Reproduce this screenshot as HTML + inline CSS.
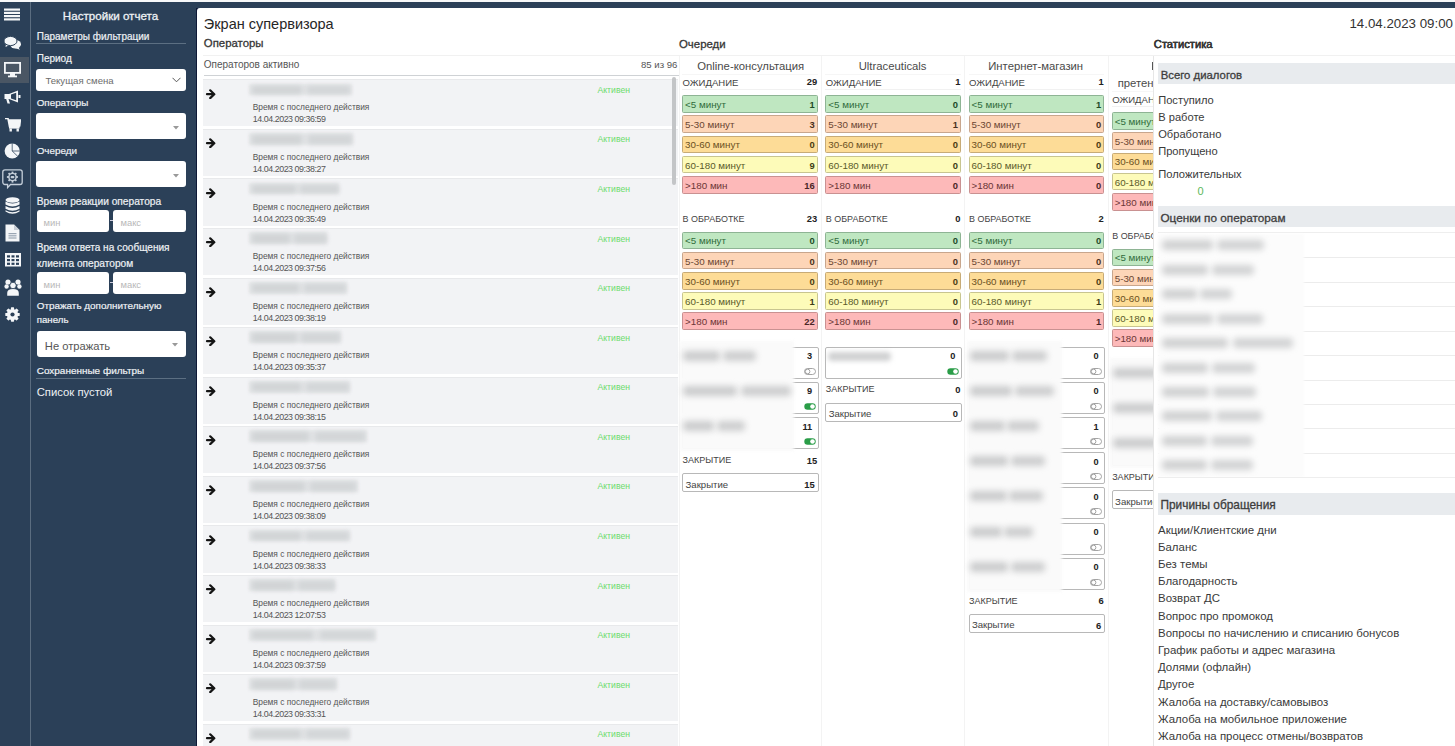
<!DOCTYPE html>
<html><head><meta charset="utf-8"><title>Экран супервизора</title>
<style>
html,body{margin:0;padding:0;}
body{width:1455px;height:746px;overflow:hidden;position:relative;background:#2b4058;font-family:"Liberation Sans",sans-serif;}
.t{position:absolute;white-space:nowrap;line-height:1;}
</style></head><body>
<div style="position:absolute;left:0.00px;top:0.00px;width:1455.00px;height:2.00px;background:#f7f8f9"></div>
<div style="position:absolute;left:30.00px;top:2.00px;width:1.40px;height:744.00px;background:#5b6d80"></div>
<div style="position:absolute;left:0.00px;top:56.70px;width:29.20px;height:26.80px;background:#4a5664"></div>
<svg style="position:absolute;left:4px;top:8px" width="16" height="14" viewBox="0 0 16 14"><g fill="#f4f6f8"><rect x="0" y="0.5" width="16" height="2.2"/><rect x="0" y="3.8" width="16" height="2.2"/><rect x="0" y="7" width="16" height="2.2"/><rect x="0" y="10.3" width="16" height="2.2"/></g></svg>
<svg style="position:absolute;left:4px;top:36px" width="17" height="14" viewBox="0 0 17 14"><g fill="#f4f6f8"><ellipse cx="6.5" cy="5" rx="6.5" ry="4.6"/><path d="M2 8 L1.5 11 L5.5 9z"/><ellipse cx="11.5" cy="8.2" rx="5.5" ry="4.2" /><path d="M14 11 L16 13.8 L11 12z"/></g><ellipse cx="6.5" cy="5" rx="6.5" ry="4.6" fill="#f4f6f8" stroke="#2b4058" stroke-width="1"/></svg>
<svg style="position:absolute;left:4px;top:62px" width="17" height="16" viewBox="0 0 17 16"><rect x="0.9" y="0.9" width="15.2" height="10" fill="none" stroke="#f4f6f8" stroke-width="1.8"/><rect x="6" y="11" width="5" height="3" fill="#f4f6f8"/><rect x="4" y="13.5" width="9" height="1.8" fill="#f4f6f8"/></svg>
<svg style="position:absolute;left:4px;top:90px" width="17" height="14" viewBox="0 0 17 14"><path d="M0.5 4 H5 L14 0.5 V12.5 L5 9 H4.5 L6 13.5 H3.5 L2.2 9 H0.5z" fill="#f4f6f8"/><path d="M7 4.5 L12.2 2.8 V10.2 L7 8.5z" fill="#2b4058"/><rect x="14.5" y="5" width="2" height="3" fill="#f4f6f8"/></svg>
<svg style="position:absolute;left:5px;top:118px" width="16" height="14" viewBox="0 0 16 14"><path d="M0 0.5 H3 L4.5 8.5 H14 L15.5 2 H3.8" fill="none" stroke="#f4f6f8" stroke-width="1.6"/><rect x="4" y="2" width="11.5" height="6.5" fill="#f4f6f8"/><rect x="4" y="9" width="10.5" height="1.6" fill="#f4f6f8"/><rect x="4.5" y="10.5" width="2.4" height="3" fill="#f4f6f8"/><rect x="11.5" y="10.5" width="2.4" height="3" fill="#f4f6f8"/></svg>
<svg style="position:absolute;left:4px;top:143px" width="17" height="16" viewBox="0 0 17 16"><circle cx="8.2" cy="8" r="7.6" fill="#f4f6f8"/><path d="M8.2 0.2 V8 H16 M8.2 8 L13.8 13.4" fill="none" stroke="#2b4058" stroke-width="0.75"/></svg>
<svg style="position:absolute;left:2px;top:169px" width="21" height="20" viewBox="0 0 21 20"><path d="M3 0.8 H18 A2.2 2.2 0 0 1 20.2 3 V13.3 A2.2 2.2 0 0 1 18 15.5 H8.5 L5.6 18.6 V15.5 H3 A2.2 2.2 0 0 1 0.8 13.3 V3 A2.2 2.2 0 0 1 3 0.8z" fill="none" stroke="#c5cfda" stroke-width="1.3"/><rect x="9.6" y="2.6" width="1.8" height="11" transform="rotate(0 10.5 8)" fill="#c5cfda"/><rect x="9.6" y="2.6" width="1.8" height="11" transform="rotate(45 10.5 8)" fill="#c5cfda"/><rect x="9.6" y="2.6" width="1.8" height="11" transform="rotate(90 10.5 8)" fill="#c5cfda"/><rect x="9.6" y="2.6" width="1.8" height="11" transform="rotate(135 10.5 8)" fill="#c5cfda"/><circle cx="10.5" cy="8" r="4.3" fill="#c5cfda"/><circle cx="10.5" cy="8" r="2.9" fill="#2b4058"/><rect x="8.6" y="7" width="3.8" height="2.2" rx="1" fill="#c5cfda"/></svg>
<svg style="position:absolute;left:5px;top:197px" width="15" height="18" viewBox="0 0 15 18"><g fill="#f4f6f8"><ellipse cx="7.5" cy="3" rx="7" ry="2.8"/><path d="M0.5 4.5 Q7.5 8.5 14.5 4.5 V7.5 Q7.5 11.5 0.5 7.5z"/><path d="M0.5 9 Q7.5 13 14.5 9 V11.8 Q7.5 15.8 0.5 11.8z"/><path d="M0.5 13.2 Q7.5 17.2 14.5 13.2 V14.6 Q7.5 19 0.5 14.6z"/></g></svg>
<svg style="position:absolute;left:5px;top:224px" width="15" height="18" viewBox="0 0 15 18"><path d="M0.5 0.5 H9 L14.5 6 V17.5 H0.5z" fill="#f4f6f8"/><path d="M9 0.5 V6 H14.5" fill="#c8ced6"/><g fill="#9aa6b3"><rect x="3.5" y="9" width="8" height="1.2"/><rect x="3.5" y="11.2" width="8" height="1.2"/><rect x="3.5" y="13.4" width="8" height="1.2"/></g></svg>
<svg style="position:absolute;left:5px;top:253px" width="16" height="14" viewBox="0 0 16 14"><rect x="0" y="0" width="16" height="13.5" fill="#f4f6f8"/><g fill="#2b4058"><rect x="2" y="2.3" width="3" height="2.2"/><rect x="6.5" y="2.3" width="3" height="2.2"/><rect x="11" y="2.3" width="3" height="2.2"/><rect x="2" y="6" width="3" height="2.2"/><rect x="6.5" y="6" width="3" height="2.2"/><rect x="11" y="6" width="3" height="2.2"/><rect x="2" y="9.7" width="3" height="2.2"/><rect x="6.5" y="9.7" width="3" height="2.2"/><rect x="11" y="9.7" width="3" height="2.2"/></g></svg>
<svg style="position:absolute;left:4px;top:279px" width="18" height="17" viewBox="0 0 18 17"><g fill="#f4f6f8"><circle cx="4" cy="3" r="2.6"/><circle cx="14" cy="3" r="2.6"/><circle cx="2.6" cy="7.5" r="2.2"/><circle cx="15.4" cy="7.5" r="2.2"/><path d="M3.2 16.8 V14 Q3.2 10 9 10 Q14.8 10 14.8 14 V16.8z"/></g><circle cx="9" cy="6.5" r="3.2" fill="#f4f6f8" stroke="#2b4058" stroke-width="0.8"/></svg>
<svg style="position:absolute;left:5px;top:307px" width="15" height="15" viewBox="0 0 15 15"><g fill="#f4f6f8"><rect x="5.9" y="0.3" width="3.2" height="14.4" rx="0.6" transform="rotate(0 7.5 7.5)"/><rect x="5.9" y="0.3" width="3.2" height="14.4" rx="0.6" transform="rotate(45 7.5 7.5)"/><rect x="5.9" y="0.3" width="3.2" height="14.4" rx="0.6" transform="rotate(90 7.5 7.5)"/><rect x="5.9" y="0.3" width="3.2" height="14.4" rx="0.6" transform="rotate(135 7.5 7.5)"/><circle cx="7.5" cy="7.5" r="5.6"/></g><circle cx="7.5" cy="7.5" r="2.1" fill="#2b4058"/></svg>
<div class="t" style="left:-89.50px;width:400px;text-align:center;top:9.98px;font-size:11.6px;color:#eef1f4;font-weight:400;-webkit-text-stroke:0.3px currentColor;">Настройки отчета</div>
<div class="t" style="left:36.70px;top:31.93px;font-size:10.0px;color:#eef1f4;font-weight:400;-webkit-text-stroke:0.2px currentColor;">Параметры фильтрации</div>
<div style="position:absolute;left:36.00px;top:42.60px;width:150.00px;height:1.20px;background:#5c6f82"></div>
<div class="t" style="left:36.70px;top:53.94px;font-size:10.0px;color:#eef1f4;font-weight:400;-webkit-text-stroke:0.2px currentColor;">Период</div>
<div style="position:absolute;left:36.00px;top:69.00px;width:150.00px;height:22.00px;background:#fff;border-radius:3px"></div>
<div class="t" style="left:45.40px;top:76.47px;font-size:9.6px;color:#6c6c6c;font-weight:400;">Текущая смена</div>
<svg style="position:absolute;left:172px;top:77px" width="9" height="6" viewBox="0 0 9 6"><path d="M0.5 0.8 L4.5 4.8 L8.5 0.8" fill="none" stroke="#555" stroke-width="1"/></svg>
<div class="t" style="left:36.70px;top:97.86px;font-size:9.85px;color:#eef1f4;font-weight:400;-webkit-text-stroke:0.2px currentColor;">Операторы</div>
<div style="position:absolute;left:36.00px;top:113.00px;width:150.00px;height:26.00px;background:#fff;border-radius:3px"></div>
<svg style="position:absolute;left:173px;top:126px" width="6" height="4" viewBox="0 0 6 4"><path d="M0 0 H6 L3 3.5z" fill="#999"/></svg>
<div class="t" style="left:36.70px;top:145.86px;font-size:9.85px;color:#eef1f4;font-weight:400;-webkit-text-stroke:0.2px currentColor;">Очереди</div>
<div style="position:absolute;left:36.00px;top:161.00px;width:150.00px;height:26.20px;background:#fff;border-radius:3px"></div>
<svg style="position:absolute;left:173px;top:174px" width="6" height="4" viewBox="0 0 6 4"><path d="M0 0 H6 L3 3.5z" fill="#999"/></svg>
<div class="t" style="left:36.70px;top:197.37px;font-size:10.2px;color:#eef1f4;font-weight:400;-webkit-text-stroke:0.2px currentColor;">Время реакции оператора</div>
<div style="position:absolute;left:36.50px;top:209.80px;width:72.00px;height:22.20px;background:#fff;border-radius:3px"></div>
<div class="t" style="left:43.50px;top:217.84px;font-size:9.4px;color:#b8b8b8;font-weight:400;">мин</div>
<div style="position:absolute;left:109.50px;top:219.50px;width:3.00px;height:1.20px;background:#ccd"></div>
<div style="position:absolute;left:113.00px;top:209.80px;width:73.00px;height:22.20px;background:#fff;border-radius:3px"></div>
<div class="t" style="left:120.50px;top:217.84px;font-size:9.4px;color:#b8b8b8;font-weight:400;">макс</div>
<div class="t" style="left:36.70px;top:243.08px;font-size:10.07px;color:#eef1f4;font-weight:400;-webkit-text-stroke:0.2px currentColor;">Время ответа на сообщения</div>
<div class="t" style="left:36.70px;top:259.41px;font-size:10.15px;color:#eef1f4;font-weight:400;-webkit-text-stroke:0.2px currentColor;">клиента оператором</div>
<div style="position:absolute;left:36.50px;top:272.00px;width:72.00px;height:21.50px;background:#fff;border-radius:3px"></div>
<div class="t" style="left:43.50px;top:279.84px;font-size:9.4px;color:#b8b8b8;font-weight:400;">мин</div>
<div style="position:absolute;left:109.50px;top:281.50px;width:3.00px;height:1.20px;background:#ccd"></div>
<div style="position:absolute;left:113.00px;top:272.00px;width:73.00px;height:21.50px;background:#fff;border-radius:3px"></div>
<div class="t" style="left:120.50px;top:279.84px;font-size:9.4px;color:#b8b8b8;font-weight:400;">макс</div>
<div class="t" style="left:36.70px;top:300.80px;font-size:9.92px;color:#eef1f4;font-weight:400;-webkit-text-stroke:0.2px currentColor;">Отражать дополнительную</div>
<div class="t" style="left:36.70px;top:315.29px;font-size:9.7px;color:#eef1f4;font-weight:400;-webkit-text-stroke:0.2px currentColor;">панель</div>
<div style="position:absolute;left:36.50px;top:331.30px;width:149.50px;height:25.30px;background:#fff;border-radius:3px"></div>
<div class="t" style="left:44.80px;top:340.62px;font-size:11.2px;color:#555;font-weight:400;">Не отражать</div>
<svg style="position:absolute;left:172px;top:343px" width="6" height="4" viewBox="0 0 6 4"><path d="M0 0 H6 L3 3.5z" fill="#999"/></svg>
<div class="t" style="left:36.70px;top:366.25px;font-size:9.98px;color:#eef1f4;font-weight:400;-webkit-text-stroke:0.2px currentColor;">Сохраненные фильтры</div>
<div style="position:absolute;left:36.00px;top:377.80px;width:150.00px;height:1.20px;background:#5c6f82"></div>
<div class="t" style="left:36.70px;top:386.63px;font-size:11.3px;color:#eef1f4;font-weight:400;">Список пустой</div>
<div style="position:absolute;left:196.30px;top:7.80px;width:1.30px;height:740.00px;background:#0d1836"></div>
<div style="position:absolute;left:197.30px;top:7.80px;width:1300.00px;height:740.00px;background:#fff;border-top-left-radius:3px"></div>
<div class="t" style="left:203.80px;top:17.03px;font-size:14.5px;color:#262626;font-weight:400;">Экран супервизора</div>
<div class="t" style="left:1153.00px;width:300px;text-align:right;top:17.44px;font-size:13.3px;color:#333;font-weight:400;">14.04.2023 09:00</div>
<div class="t" style="left:203.80px;top:38.45px;font-size:11.4px;color:#363636;font-weight:400;-webkit-text-stroke:0.3px currentColor;">Операторы</div>
<div class="t" style="left:679.00px;top:38.85px;font-size:11.4px;color:#363636;font-weight:400;-webkit-text-stroke:0.3px currentColor;">Очереди</div>
<div class="t" style="left:1153.80px;top:38.62px;font-size:11.2px;color:#363636;font-weight:400;-webkit-text-stroke:0.3px currentColor;">Статистика</div>
<div style="position:absolute;left:203.00px;top:55.30px;width:1252.00px;height:1.00px;background:#f1f1f1"></div>
<div class="t" style="left:203.80px;top:60.23px;font-size:10.0px;color:#555;font-weight:400;">Операторов активно</div>
<div class="t" style="left:377.40px;width:300px;text-align:right;top:60.27px;font-size:9.6px;color:#555;font-weight:400;">85 из 96</div>
<div style="position:absolute;left:203.50px;top:74.60px;width:475.00px;height:1.60px;background:#cfd2d5"></div>
<div style="position:absolute;left:203.20px;top:79.30px;width:475.20px;height:47.20px;background:#f2f3f5;border-top:1px solid #e8e9eb;box-sizing:border-box"></div>
<svg style="position:absolute;left:204.8px;top:88.50px" width="12" height="10" viewBox="0 0 12 10"><path d="M2 5.2 H9.2 M5.2 1.3 L9.3 5.2 L5.2 9.1" fill="none" stroke="#151515" stroke-width="2.2" stroke-linecap="round" stroke-linejoin="round"/></svg>
<div style="position:absolute;left:249.00px;top:83.50px;width:102.50px;height:11.80px;background:#e2e4e6;filter:blur(1.8px)"></div>
<div style="position:absolute;left:252.00px;top:85.50px;width:49.68px;height:8.50px;background:#d0d3d5;filter:blur(2.8px);border-radius:3px"></div>
<div style="position:absolute;left:306.86px;top:85.50px;width:43.47px;height:8.50px;background:#d2d5d7;filter:blur(2.8px);border-radius:3px"></div>
<div class="t" style="left:252.70px;top:103.39px;font-size:8.4px;color:#555;font-weight:400;">Время с последнего действия</div>
<div class="t" style="left:252.70px;top:115.47px;font-size:8.9px;color:#555;font-weight:400;letter-spacing:-0.45px">14.04.2023 09:36:59</div>
<div class="t" style="left:597.50px;top:85.89px;font-size:8.64px;color:#6cdc6c;font-weight:400;">Активен</div>
<div style="position:absolute;left:203.20px;top:128.87px;width:475.20px;height:47.20px;background:#f2f3f5;border-top:1px solid #e8e9eb;box-sizing:border-box"></div>
<svg style="position:absolute;left:204.8px;top:138.07px" width="12" height="10" viewBox="0 0 12 10"><path d="M2 5.2 H9.2 M5.2 1.3 L9.3 5.2 L5.2 9.1" fill="none" stroke="#151515" stroke-width="2.2" stroke-linecap="round" stroke-linejoin="round"/></svg>
<div style="position:absolute;left:249.00px;top:133.07px;width:104.00px;height:11.80px;background:#e2e4e6;filter:blur(1.8px)"></div>
<div style="position:absolute;left:252.00px;top:135.07px;width:50.40px;height:8.50px;background:#d0d3d5;filter:blur(2.8px);border-radius:3px"></div>
<div style="position:absolute;left:307.65px;top:135.07px;width:44.10px;height:8.50px;background:#d2d5d7;filter:blur(2.8px);border-radius:3px"></div>
<div class="t" style="left:252.70px;top:152.96px;font-size:8.4px;color:#555;font-weight:400;">Время с последнего действия</div>
<div class="t" style="left:252.70px;top:165.04px;font-size:8.9px;color:#555;font-weight:400;letter-spacing:-0.45px">14.04.2023 09:38:27</div>
<div class="t" style="left:597.50px;top:135.46px;font-size:8.64px;color:#6cdc6c;font-weight:400;">Активен</div>
<div style="position:absolute;left:203.20px;top:178.44px;width:475.20px;height:47.20px;background:#f2f3f5;border-top:1px solid #e8e9eb;box-sizing:border-box"></div>
<svg style="position:absolute;left:204.8px;top:187.64px" width="12" height="10" viewBox="0 0 12 10"><path d="M2 5.2 H9.2 M5.2 1.3 L9.3 5.2 L5.2 9.1" fill="none" stroke="#151515" stroke-width="2.2" stroke-linecap="round" stroke-linejoin="round"/></svg>
<div style="position:absolute;left:249.00px;top:182.64px;width:90.40px;height:11.80px;background:#e2e4e6;filter:blur(1.8px)"></div>
<div style="position:absolute;left:252.00px;top:184.64px;width:43.87px;height:8.50px;background:#d0d3d5;filter:blur(2.8px);border-radius:3px"></div>
<div style="position:absolute;left:300.44px;top:184.64px;width:38.39px;height:8.50px;background:#d2d5d7;filter:blur(2.8px);border-radius:3px"></div>
<div class="t" style="left:252.70px;top:202.53px;font-size:8.4px;color:#555;font-weight:400;">Время с последнего действия</div>
<div class="t" style="left:252.70px;top:214.61px;font-size:8.9px;color:#555;font-weight:400;letter-spacing:-0.45px">14.04.2023 09:35:49</div>
<div class="t" style="left:597.50px;top:185.03px;font-size:8.64px;color:#6cdc6c;font-weight:400;">Активен</div>
<div style="position:absolute;left:203.20px;top:228.01px;width:475.20px;height:47.20px;background:#f2f3f5;border-top:1px solid #e8e9eb;box-sizing:border-box"></div>
<svg style="position:absolute;left:204.8px;top:237.21px" width="12" height="10" viewBox="0 0 12 10"><path d="M2 5.2 H9.2 M5.2 1.3 L9.3 5.2 L5.2 9.1" fill="none" stroke="#151515" stroke-width="2.2" stroke-linecap="round" stroke-linejoin="round"/></svg>
<div style="position:absolute;left:249.00px;top:232.21px;width:78.30px;height:11.80px;background:#e2e4e6;filter:blur(1.8px)"></div>
<div style="position:absolute;left:252.00px;top:234.21px;width:38.06px;height:8.50px;background:#d0d3d5;filter:blur(2.8px);border-radius:3px"></div>
<div style="position:absolute;left:294.03px;top:234.21px;width:33.31px;height:8.50px;background:#d2d5d7;filter:blur(2.8px);border-radius:3px"></div>
<div class="t" style="left:252.70px;top:252.10px;font-size:8.4px;color:#555;font-weight:400;">Время с последнего действия</div>
<div class="t" style="left:252.70px;top:264.18px;font-size:8.9px;color:#555;font-weight:400;letter-spacing:-0.45px">14.04.2023 09:37:56</div>
<div class="t" style="left:597.50px;top:234.60px;font-size:8.64px;color:#6cdc6c;font-weight:400;">Активен</div>
<div style="position:absolute;left:203.20px;top:277.58px;width:475.20px;height:47.20px;background:#f2f3f5;border-top:1px solid #e8e9eb;box-sizing:border-box"></div>
<svg style="position:absolute;left:204.8px;top:286.78px" width="12" height="10" viewBox="0 0 12 10"><path d="M2 5.2 H9.2 M5.2 1.3 L9.3 5.2 L5.2 9.1" fill="none" stroke="#151515" stroke-width="2.2" stroke-linecap="round" stroke-linejoin="round"/></svg>
<div style="position:absolute;left:249.00px;top:281.78px;width:97.70px;height:11.80px;background:#e2e4e6;filter:blur(1.8px)"></div>
<div style="position:absolute;left:252.00px;top:283.78px;width:47.38px;height:8.50px;background:#d0d3d5;filter:blur(2.8px);border-radius:3px"></div>
<div style="position:absolute;left:304.31px;top:283.78px;width:41.45px;height:8.50px;background:#d2d5d7;filter:blur(2.8px);border-radius:3px"></div>
<div class="t" style="left:252.70px;top:301.67px;font-size:8.4px;color:#555;font-weight:400;">Время с последнего действия</div>
<div class="t" style="left:252.70px;top:313.75px;font-size:8.9px;color:#555;font-weight:400;letter-spacing:-0.45px">14.04.2023 09:38:19</div>
<div class="t" style="left:597.50px;top:284.17px;font-size:8.64px;color:#6cdc6c;font-weight:400;">Активен</div>
<div style="position:absolute;left:203.20px;top:327.15px;width:475.20px;height:47.20px;background:#f2f3f5;border-top:1px solid #e8e9eb;box-sizing:border-box"></div>
<svg style="position:absolute;left:204.8px;top:336.35px" width="12" height="10" viewBox="0 0 12 10"><path d="M2 5.2 H9.2 M5.2 1.3 L9.3 5.2 L5.2 9.1" fill="none" stroke="#151515" stroke-width="2.2" stroke-linecap="round" stroke-linejoin="round"/></svg>
<div style="position:absolute;left:249.00px;top:331.35px;width:91.90px;height:11.80px;background:#e2e4e6;filter:blur(1.8px)"></div>
<div style="position:absolute;left:252.00px;top:333.35px;width:44.59px;height:8.50px;background:#d0d3d5;filter:blur(2.8px);border-radius:3px"></div>
<div style="position:absolute;left:301.24px;top:333.35px;width:39.02px;height:8.50px;background:#d2d5d7;filter:blur(2.8px);border-radius:3px"></div>
<div class="t" style="left:252.70px;top:351.24px;font-size:8.4px;color:#555;font-weight:400;">Время с последнего действия</div>
<div class="t" style="left:252.70px;top:363.32px;font-size:8.9px;color:#555;font-weight:400;letter-spacing:-0.45px">14.04.2023 09:35:37</div>
<div class="t" style="left:597.50px;top:333.74px;font-size:8.64px;color:#6cdc6c;font-weight:400;">Активен</div>
<div style="position:absolute;left:203.20px;top:376.72px;width:475.20px;height:47.20px;background:#f2f3f5;border-top:1px solid #e8e9eb;box-sizing:border-box"></div>
<svg style="position:absolute;left:204.8px;top:385.92px" width="12" height="10" viewBox="0 0 12 10"><path d="M2 5.2 H9.2 M5.2 1.3 L9.3 5.2 L5.2 9.1" fill="none" stroke="#151515" stroke-width="2.2" stroke-linecap="round" stroke-linejoin="round"/></svg>
<div style="position:absolute;left:249.00px;top:380.92px;width:101.00px;height:11.80px;background:#e2e4e6;filter:blur(1.8px)"></div>
<div style="position:absolute;left:252.00px;top:382.92px;width:48.96px;height:8.50px;background:#d0d3d5;filter:blur(2.8px);border-radius:3px"></div>
<div style="position:absolute;left:306.06px;top:382.92px;width:42.84px;height:8.50px;background:#d2d5d7;filter:blur(2.8px);border-radius:3px"></div>
<div class="t" style="left:252.70px;top:400.81px;font-size:8.4px;color:#555;font-weight:400;">Время с последнего действия</div>
<div class="t" style="left:252.70px;top:412.89px;font-size:8.9px;color:#555;font-weight:400;letter-spacing:-0.45px">14.04.2023 09:38:15</div>
<div class="t" style="left:597.50px;top:383.31px;font-size:8.64px;color:#6cdc6c;font-weight:400;">Активен</div>
<div style="position:absolute;left:203.20px;top:426.29px;width:475.20px;height:47.20px;background:#f2f3f5;border-top:1px solid #e8e9eb;box-sizing:border-box"></div>
<svg style="position:absolute;left:204.8px;top:435.49px" width="12" height="10" viewBox="0 0 12 10"><path d="M2 5.2 H9.2 M5.2 1.3 L9.3 5.2 L5.2 9.1" fill="none" stroke="#151515" stroke-width="2.2" stroke-linecap="round" stroke-linejoin="round"/></svg>
<div style="position:absolute;left:249.00px;top:430.49px;width:117.60px;height:11.80px;background:#e2e4e6;filter:blur(1.8px)"></div>
<div style="position:absolute;left:252.00px;top:432.49px;width:56.93px;height:8.50px;background:#d0d3d5;filter:blur(2.8px);border-radius:3px"></div>
<div style="position:absolute;left:314.86px;top:432.49px;width:49.81px;height:8.50px;background:#d2d5d7;filter:blur(2.8px);border-radius:3px"></div>
<div class="t" style="left:252.70px;top:450.38px;font-size:8.4px;color:#555;font-weight:400;">Время с последнего действия</div>
<div class="t" style="left:252.70px;top:462.46px;font-size:8.9px;color:#555;font-weight:400;letter-spacing:-0.45px">14.04.2023 09:37:56</div>
<div class="t" style="left:597.50px;top:432.88px;font-size:8.64px;color:#6cdc6c;font-weight:400;">Активен</div>
<div style="position:absolute;left:203.20px;top:475.86px;width:475.20px;height:47.20px;background:#f2f3f5;border-top:1px solid #e8e9eb;box-sizing:border-box"></div>
<svg style="position:absolute;left:204.8px;top:485.06px" width="12" height="10" viewBox="0 0 12 10"><path d="M2 5.2 H9.2 M5.2 1.3 L9.3 5.2 L5.2 9.1" fill="none" stroke="#151515" stroke-width="2.2" stroke-linecap="round" stroke-linejoin="round"/></svg>
<div style="position:absolute;left:249.00px;top:480.06px;width:108.50px;height:11.80px;background:#e2e4e6;filter:blur(1.8px)"></div>
<div style="position:absolute;left:252.00px;top:482.06px;width:52.56px;height:8.50px;background:#d0d3d5;filter:blur(2.8px);border-radius:3px"></div>
<div style="position:absolute;left:310.04px;top:482.06px;width:45.99px;height:8.50px;background:#d2d5d7;filter:blur(2.8px);border-radius:3px"></div>
<div class="t" style="left:252.70px;top:499.95px;font-size:8.4px;color:#555;font-weight:400;">Время с последнего действия</div>
<div class="t" style="left:252.70px;top:512.03px;font-size:8.9px;color:#555;font-weight:400;letter-spacing:-0.45px">14.04.2023 09:38:09</div>
<div class="t" style="left:597.50px;top:482.45px;font-size:8.64px;color:#6cdc6c;font-weight:400;">Активен</div>
<div style="position:absolute;left:203.20px;top:525.43px;width:475.20px;height:47.20px;background:#f2f3f5;border-top:1px solid #e8e9eb;box-sizing:border-box"></div>
<svg style="position:absolute;left:204.8px;top:534.63px" width="12" height="10" viewBox="0 0 12 10"><path d="M2 5.2 H9.2 M5.2 1.3 L9.3 5.2 L5.2 9.1" fill="none" stroke="#151515" stroke-width="2.2" stroke-linecap="round" stroke-linejoin="round"/></svg>
<div style="position:absolute;left:249.00px;top:529.63px;width:101.30px;height:11.80px;background:#e2e4e6;filter:blur(1.8px)"></div>
<div style="position:absolute;left:252.00px;top:531.63px;width:49.10px;height:8.50px;background:#d0d3d5;filter:blur(2.8px);border-radius:3px"></div>
<div style="position:absolute;left:306.22px;top:531.63px;width:42.97px;height:8.50px;background:#d2d5d7;filter:blur(2.8px);border-radius:3px"></div>
<div class="t" style="left:252.70px;top:549.52px;font-size:8.4px;color:#555;font-weight:400;">Время с последнего действия</div>
<div class="t" style="left:252.70px;top:561.60px;font-size:8.9px;color:#555;font-weight:400;letter-spacing:-0.45px">14.04.2023 09:38:33</div>
<div class="t" style="left:597.50px;top:532.02px;font-size:8.64px;color:#6cdc6c;font-weight:400;">Активен</div>
<div style="position:absolute;left:203.20px;top:575.00px;width:475.20px;height:47.20px;background:#f2f3f5;border-top:1px solid #e8e9eb;box-sizing:border-box"></div>
<svg style="position:absolute;left:204.8px;top:584.20px" width="12" height="10" viewBox="0 0 12 10"><path d="M2 5.2 H9.2 M5.2 1.3 L9.3 5.2 L5.2 9.1" fill="none" stroke="#151515" stroke-width="2.2" stroke-linecap="round" stroke-linejoin="round"/></svg>
<div style="position:absolute;left:249.00px;top:579.20px;width:86.20px;height:11.80px;background:#e2e4e6;filter:blur(1.8px)"></div>
<div style="position:absolute;left:252.00px;top:581.20px;width:41.86px;height:8.50px;background:#d0d3d5;filter:blur(2.8px);border-radius:3px"></div>
<div style="position:absolute;left:298.22px;top:581.20px;width:36.62px;height:8.50px;background:#d2d5d7;filter:blur(2.8px);border-radius:3px"></div>
<div class="t" style="left:252.70px;top:599.09px;font-size:8.4px;color:#555;font-weight:400;">Время с последнего действия</div>
<div class="t" style="left:252.70px;top:611.17px;font-size:8.9px;color:#555;font-weight:400;letter-spacing:-0.45px">14.04.2023 12:07:53</div>
<div class="t" style="left:597.50px;top:581.59px;font-size:8.64px;color:#6cdc6c;font-weight:400;">Активен</div>
<div style="position:absolute;left:203.20px;top:624.57px;width:475.20px;height:47.20px;background:#f2f3f5;border-top:1px solid #e8e9eb;box-sizing:border-box"></div>
<svg style="position:absolute;left:204.8px;top:633.77px" width="12" height="10" viewBox="0 0 12 10"><path d="M2 5.2 H9.2 M5.2 1.3 L9.3 5.2 L5.2 9.1" fill="none" stroke="#151515" stroke-width="2.2" stroke-linecap="round" stroke-linejoin="round"/></svg>
<div style="position:absolute;left:249.00px;top:628.77px;width:127.10px;height:11.80px;background:#e2e4e6;filter:blur(1.8px)"></div>
<div style="position:absolute;left:252.00px;top:630.77px;width:61.49px;height:8.50px;background:#d0d3d5;filter:blur(2.8px);border-radius:3px"></div>
<div style="position:absolute;left:319.89px;top:630.77px;width:53.80px;height:8.50px;background:#d2d5d7;filter:blur(2.8px);border-radius:3px"></div>
<div class="t" style="left:252.70px;top:648.66px;font-size:8.4px;color:#555;font-weight:400;">Время с последнего действия</div>
<div class="t" style="left:252.70px;top:660.74px;font-size:8.9px;color:#555;font-weight:400;letter-spacing:-0.45px">14.04.2023 09:37:59</div>
<div class="t" style="left:597.50px;top:631.16px;font-size:8.64px;color:#6cdc6c;font-weight:400;">Активен</div>
<div style="position:absolute;left:203.20px;top:674.14px;width:475.20px;height:47.20px;background:#f2f3f5;border-top:1px solid #e8e9eb;box-sizing:border-box"></div>
<svg style="position:absolute;left:204.8px;top:683.34px" width="12" height="10" viewBox="0 0 12 10"><path d="M2 5.2 H9.2 M5.2 1.3 L9.3 5.2 L5.2 9.1" fill="none" stroke="#151515" stroke-width="2.2" stroke-linecap="round" stroke-linejoin="round"/></svg>
<div style="position:absolute;left:249.00px;top:678.34px;width:87.70px;height:11.80px;background:#e2e4e6;filter:blur(1.8px)"></div>
<div style="position:absolute;left:252.00px;top:680.34px;width:42.58px;height:8.50px;background:#d0d3d5;filter:blur(2.8px);border-radius:3px"></div>
<div style="position:absolute;left:299.01px;top:680.34px;width:37.25px;height:8.50px;background:#d2d5d7;filter:blur(2.8px);border-radius:3px"></div>
<div class="t" style="left:252.70px;top:698.23px;font-size:8.4px;color:#555;font-weight:400;">Время с последнего действия</div>
<div class="t" style="left:252.70px;top:710.31px;font-size:8.9px;color:#555;font-weight:400;letter-spacing:-0.45px">14.04.2023 09:33:31</div>
<div class="t" style="left:597.50px;top:680.73px;font-size:8.64px;color:#6cdc6c;font-weight:400;">Активен</div>
<div style="position:absolute;left:203.20px;top:723.71px;width:475.20px;height:47.20px;background:#f2f3f5;border-top:1px solid #e8e9eb;box-sizing:border-box"></div>
<svg style="position:absolute;left:204.8px;top:732.91px" width="12" height="10" viewBox="0 0 12 10"><path d="M2 5.2 H9.2 M5.2 1.3 L9.3 5.2 L5.2 9.1" fill="none" stroke="#151515" stroke-width="2.2" stroke-linecap="round" stroke-linejoin="round"/></svg>
<div style="position:absolute;left:249.00px;top:727.91px;width:101.30px;height:11.80px;background:#e2e4e6;filter:blur(1.8px)"></div>
<div style="position:absolute;left:252.00px;top:729.91px;width:49.10px;height:8.50px;background:#d0d3d5;filter:blur(2.8px);border-radius:3px"></div>
<div style="position:absolute;left:306.22px;top:729.91px;width:42.97px;height:8.50px;background:#d2d5d7;filter:blur(2.8px);border-radius:3px"></div>
<div class="t" style="left:252.70px;top:747.80px;font-size:8.4px;color:#555;font-weight:400;">Время с последнего действия</div>
<div class="t" style="left:252.70px;top:759.88px;font-size:8.9px;color:#555;font-weight:400;letter-spacing:-0.45px">14.04.2023 09:36:10</div>
<div class="t" style="left:597.50px;top:730.30px;font-size:8.64px;color:#6cdc6c;font-weight:400;">Активен</div>
<div style="position:absolute;left:672.40px;top:77.00px;width:4.00px;height:108.00px;background:#c3c5c7;border-radius:2px"></div>
<div style="position:absolute;left:679.00px;top:55.50px;width:474.50px;height:690.50px;background:#fff"></div>
<div style="position:absolute;left:679.40px;top:55.50px;width:1.00px;height:690.50px;background:#f3f3f3"></div>
<div class="t" style="left:550.70px;width:400px;text-align:center;top:61.03px;font-size:11.3px;color:#4a4a4a;font-weight:400;">Online-консультация</div>
<div style="position:absolute;left:682.10px;top:74.10px;width:135.60px;height:0.80px;background:#f6f6f6"></div>
<div class="t" style="left:682.60px;top:78.12px;font-size:9.55px;color:#444;font-weight:400;">ОЖИДАНИЕ</div>
<div class="t" style="left:517.20px;width:300px;text-align:right;top:77.44px;font-size:9.4px;color:#222;font-weight:700;">29</div>
<div style="position:absolute;left:682.10px;top:88.60px;width:135.60px;height:0.80px;background:#f1f1f1"></div>
<div style="position:absolute;left:682.10px;top:95.20px;width:135.60px;height:17.60px;background:#bfe7c1;border:1px solid #8eb494;box-sizing:border-box;border-radius:1.5px"></div>
<div class="t" style="left:685.10px;top:100.00px;font-size:9.8px;color:#2f6b3b;font-weight:400;">&lt;5 минут</div>
<div class="t" style="left:514.70px;width:300px;text-align:right;top:100.04px;font-size:9.4px;color:#1d4a28;font-weight:700;">1</div>
<div style="position:absolute;left:682.10px;top:115.40px;width:135.60px;height:17.60px;background:#fdd5b7;border:1px solid #c8a68d;box-sizing:border-box;border-radius:1.5px"></div>
<div class="t" style="left:685.10px;top:120.20px;font-size:9.8px;color:#6b4632;font-weight:400;">5-30 минут</div>
<div class="t" style="left:514.70px;width:300px;text-align:right;top:120.24px;font-size:9.4px;color:#4a3020;font-weight:700;">3</div>
<div style="position:absolute;left:682.10px;top:135.60px;width:135.60px;height:17.60px;background:#fddc97;border:1px solid #c7ab77;box-sizing:border-box;border-radius:1.5px"></div>
<div class="t" style="left:685.10px;top:140.40px;font-size:9.8px;color:#6b5022;font-weight:400;">30-60 минут</div>
<div class="t" style="left:514.70px;width:300px;text-align:right;top:140.44px;font-size:9.4px;color:#4a3a12;font-weight:700;">0</div>
<div style="position:absolute;left:682.10px;top:155.80px;width:135.60px;height:17.60px;background:#fdfbb9;border:1px solid #c8c590;box-sizing:border-box;border-radius:1.5px"></div>
<div class="t" style="left:685.10px;top:160.60px;font-size:9.8px;color:#5b5a2a;font-weight:400;">60-180 минут</div>
<div class="t" style="left:514.70px;width:300px;text-align:right;top:160.64px;font-size:9.4px;color:#3d3d18;font-weight:700;">9</div>
<div style="position:absolute;left:682.10px;top:176.00px;width:135.60px;height:17.60px;background:#fdb9b9;border:1px solid #c99191;box-sizing:border-box;border-radius:1.5px"></div>
<div class="t" style="left:685.10px;top:180.80px;font-size:9.8px;color:#6b3636;font-weight:400;">&gt;180 мин</div>
<div class="t" style="left:514.70px;width:300px;text-align:right;top:180.84px;font-size:9.4px;color:#4a2626;font-weight:700;">16</div>
<div class="t" style="left:682.60px;top:215.22px;font-size:8.95px;color:#444;font-weight:400;">В ОБРАБОТКЕ</div>
<div class="t" style="left:517.20px;width:300px;text-align:right;top:214.14px;font-size:9.4px;color:#222;font-weight:700;">23</div>
<div style="position:absolute;left:682.10px;top:231.60px;width:135.60px;height:17.60px;background:#bfe7c1;border:1px solid #8eb494;box-sizing:border-box;border-radius:1.5px"></div>
<div class="t" style="left:685.10px;top:236.40px;font-size:9.8px;color:#2f6b3b;font-weight:400;">&lt;5 минут</div>
<div class="t" style="left:514.70px;width:300px;text-align:right;top:236.44px;font-size:9.4px;color:#1d4a28;font-weight:700;">0</div>
<div style="position:absolute;left:682.10px;top:251.80px;width:135.60px;height:17.60px;background:#fdd5b7;border:1px solid #c8a68d;box-sizing:border-box;border-radius:1.5px"></div>
<div class="t" style="left:685.10px;top:256.60px;font-size:9.8px;color:#6b4632;font-weight:400;">5-30 минут</div>
<div class="t" style="left:514.70px;width:300px;text-align:right;top:256.64px;font-size:9.4px;color:#4a3020;font-weight:700;">0</div>
<div style="position:absolute;left:682.10px;top:272.00px;width:135.60px;height:17.60px;background:#fddc97;border:1px solid #c7ab77;box-sizing:border-box;border-radius:1.5px"></div>
<div class="t" style="left:685.10px;top:276.80px;font-size:9.8px;color:#6b5022;font-weight:400;">30-60 минут</div>
<div class="t" style="left:514.70px;width:300px;text-align:right;top:276.84px;font-size:9.4px;color:#4a3a12;font-weight:700;">0</div>
<div style="position:absolute;left:682.10px;top:292.20px;width:135.60px;height:17.60px;background:#fdfbb9;border:1px solid #c8c590;box-sizing:border-box;border-radius:1.5px"></div>
<div class="t" style="left:685.10px;top:297.00px;font-size:9.8px;color:#5b5a2a;font-weight:400;">60-180 минут</div>
<div class="t" style="left:514.70px;width:300px;text-align:right;top:297.04px;font-size:9.4px;color:#3d3d18;font-weight:700;">1</div>
<div style="position:absolute;left:682.10px;top:312.40px;width:135.60px;height:17.60px;background:#fdb9b9;border:1px solid #c99191;box-sizing:border-box;border-radius:1.5px"></div>
<div class="t" style="left:685.10px;top:317.20px;font-size:9.8px;color:#6b3636;font-weight:400;">&gt;180 мин</div>
<div class="t" style="left:514.70px;width:300px;text-align:right;top:317.24px;font-size:9.4px;color:#4a2626;font-weight:700;">22</div>
<div style="position:absolute;left:682.10px;top:346.60px;width:136.60px;height:32.00px;background:#fff;border:1px solid #b8b8b8;box-sizing:border-box;border-radius:2px"></div>
<div class="t" style="left:512.20px;width:300px;text-align:right;top:352.11px;font-size:9.2px;color:#222;font-weight:700;">3</div>
<svg style="position:absolute;left:803.90px;top:367.60px" width="12" height="7" viewBox="0 0 12 7"><rect x="0.5" y="0.5" width="11" height="6" rx="3" fill="#fff" stroke="#9a9a9a" stroke-width="0.9"/><circle cx="3.6" cy="3.5" r="2.3" fill="none" stroke="#9a9a9a" stroke-width="0.9"/></svg>
<div style="position:absolute;left:682.10px;top:381.80px;width:136.60px;height:32.00px;background:#fff;border:1px solid #b8b8b8;box-sizing:border-box;border-radius:2px"></div>
<div class="t" style="left:512.20px;width:300px;text-align:right;top:387.31px;font-size:9.2px;color:#222;font-weight:700;">9</div>
<svg style="position:absolute;left:803.90px;top:402.80px" width="12" height="7" viewBox="0 0 12 7"><rect x="0.3" y="0.3" width="11.4" height="6.4" rx="3.2" fill="#2a9d48"/><circle cx="8.5" cy="3.5" r="2.3" fill="#fff"/></svg>
<div style="position:absolute;left:682.10px;top:417.00px;width:136.60px;height:32.00px;background:#fff;border:1px solid #b8b8b8;box-sizing:border-box;border-radius:2px"></div>
<div class="t" style="left:512.20px;width:300px;text-align:right;top:422.51px;font-size:9.2px;color:#222;font-weight:700;">11</div>
<svg style="position:absolute;left:803.90px;top:438.00px" width="12" height="7" viewBox="0 0 12 7"><rect x="0.3" y="0.3" width="11.4" height="6.4" rx="3.2" fill="#2a9d48"/><circle cx="8.5" cy="3.5" r="2.3" fill="#fff"/></svg>
<div style="position:absolute;left:680.10px;top:341.40px;width:114.40px;height:109.60px;background:#fafafa;filter:blur(1.5px)"></div>
<div style="position:absolute;left:683.10px;top:350.60px;width:36.50px;height:10.00px;background:#cbcccd;filter:blur(3px);border-radius:4px"></div>
<div style="position:absolute;left:722.52px;top:350.60px;width:33.58px;height:10.00px;background:#cdcecf;filter:blur(3px);border-radius:4px"></div>
<div style="position:absolute;left:683.10px;top:385.80px;width:54.00px;height:10.00px;background:#cbcccd;filter:blur(3px);border-radius:4px"></div>
<div style="position:absolute;left:741.42px;top:385.80px;width:49.68px;height:10.00px;background:#cdcecf;filter:blur(3px);border-radius:4px"></div>
<div style="position:absolute;left:683.10px;top:421.00px;width:31.00px;height:10.00px;background:#cbcccd;filter:blur(3px);border-radius:4px"></div>
<div style="position:absolute;left:716.58px;top:421.00px;width:28.52px;height:10.00px;background:#cdcecf;filter:blur(3px);border-radius:4px"></div>
<div class="t" style="left:682.60px;top:455.88px;font-size:9.0px;color:#444;font-weight:400;">ЗАКРЫТИЕ</div>
<div class="t" style="left:517.20px;width:300px;text-align:right;top:455.54px;font-size:9.4px;color:#222;font-weight:700;">15</div>
<div style="position:absolute;left:682.10px;top:472.90px;width:136.60px;height:19.50px;background:#fff;border:1px solid #b8b8b8;box-sizing:border-box;border-radius:2px"></div>
<div class="t" style="left:685.50px;top:479.57px;font-size:9.6px;color:#444;font-weight:400;">Закрытие</div>
<div class="t" style="left:514.70px;width:300px;text-align:right;top:479.74px;font-size:9.4px;color:#222;font-weight:700;">15</div>
<div style="position:absolute;left:821.30px;top:55.50px;width:1.00px;height:690.50px;background:#f3f3f3"></div>
<div class="t" style="left:692.60px;width:400px;text-align:center;top:61.03px;font-size:11.3px;color:#4a4a4a;font-weight:400;">Ultraceuticals</div>
<div style="position:absolute;left:825.30px;top:74.10px;width:135.60px;height:0.80px;background:#f6f6f6"></div>
<div class="t" style="left:825.80px;top:78.12px;font-size:9.55px;color:#444;font-weight:400;">ОЖИДАНИЕ</div>
<div class="t" style="left:660.40px;width:300px;text-align:right;top:77.44px;font-size:9.4px;color:#222;font-weight:700;">1</div>
<div style="position:absolute;left:825.30px;top:88.60px;width:135.60px;height:0.80px;background:#f1f1f1"></div>
<div style="position:absolute;left:825.30px;top:95.20px;width:135.60px;height:17.60px;background:#bfe7c1;border:1px solid #8eb494;box-sizing:border-box;border-radius:1.5px"></div>
<div class="t" style="left:828.30px;top:100.00px;font-size:9.8px;color:#2f6b3b;font-weight:400;">&lt;5 минут</div>
<div class="t" style="left:657.90px;width:300px;text-align:right;top:100.04px;font-size:9.4px;color:#1d4a28;font-weight:700;">0</div>
<div style="position:absolute;left:825.30px;top:115.40px;width:135.60px;height:17.60px;background:#fdd5b7;border:1px solid #c8a68d;box-sizing:border-box;border-radius:1.5px"></div>
<div class="t" style="left:828.30px;top:120.20px;font-size:9.8px;color:#6b4632;font-weight:400;">5-30 минут</div>
<div class="t" style="left:657.90px;width:300px;text-align:right;top:120.24px;font-size:9.4px;color:#4a3020;font-weight:700;">1</div>
<div style="position:absolute;left:825.30px;top:135.60px;width:135.60px;height:17.60px;background:#fddc97;border:1px solid #c7ab77;box-sizing:border-box;border-radius:1.5px"></div>
<div class="t" style="left:828.30px;top:140.40px;font-size:9.8px;color:#6b5022;font-weight:400;">30-60 минут</div>
<div class="t" style="left:657.90px;width:300px;text-align:right;top:140.44px;font-size:9.4px;color:#4a3a12;font-weight:700;">0</div>
<div style="position:absolute;left:825.30px;top:155.80px;width:135.60px;height:17.60px;background:#fdfbb9;border:1px solid #c8c590;box-sizing:border-box;border-radius:1.5px"></div>
<div class="t" style="left:828.30px;top:160.60px;font-size:9.8px;color:#5b5a2a;font-weight:400;">60-180 минут</div>
<div class="t" style="left:657.90px;width:300px;text-align:right;top:160.64px;font-size:9.4px;color:#3d3d18;font-weight:700;">0</div>
<div style="position:absolute;left:825.30px;top:176.00px;width:135.60px;height:17.60px;background:#fdb9b9;border:1px solid #c99191;box-sizing:border-box;border-radius:1.5px"></div>
<div class="t" style="left:828.30px;top:180.80px;font-size:9.8px;color:#6b3636;font-weight:400;">&gt;180 мин</div>
<div class="t" style="left:657.90px;width:300px;text-align:right;top:180.84px;font-size:9.4px;color:#4a2626;font-weight:700;">0</div>
<div class="t" style="left:825.80px;top:215.22px;font-size:8.95px;color:#444;font-weight:400;">В ОБРАБОТКЕ</div>
<div class="t" style="left:660.40px;width:300px;text-align:right;top:214.14px;font-size:9.4px;color:#222;font-weight:700;">0</div>
<div style="position:absolute;left:825.30px;top:231.60px;width:135.60px;height:17.60px;background:#bfe7c1;border:1px solid #8eb494;box-sizing:border-box;border-radius:1.5px"></div>
<div class="t" style="left:828.30px;top:236.40px;font-size:9.8px;color:#2f6b3b;font-weight:400;">&lt;5 минут</div>
<div class="t" style="left:657.90px;width:300px;text-align:right;top:236.44px;font-size:9.4px;color:#1d4a28;font-weight:700;">0</div>
<div style="position:absolute;left:825.30px;top:251.80px;width:135.60px;height:17.60px;background:#fdd5b7;border:1px solid #c8a68d;box-sizing:border-box;border-radius:1.5px"></div>
<div class="t" style="left:828.30px;top:256.60px;font-size:9.8px;color:#6b4632;font-weight:400;">5-30 минут</div>
<div class="t" style="left:657.90px;width:300px;text-align:right;top:256.64px;font-size:9.4px;color:#4a3020;font-weight:700;">0</div>
<div style="position:absolute;left:825.30px;top:272.00px;width:135.60px;height:17.60px;background:#fddc97;border:1px solid #c7ab77;box-sizing:border-box;border-radius:1.5px"></div>
<div class="t" style="left:828.30px;top:276.80px;font-size:9.8px;color:#6b5022;font-weight:400;">30-60 минут</div>
<div class="t" style="left:657.90px;width:300px;text-align:right;top:276.84px;font-size:9.4px;color:#4a3a12;font-weight:700;">0</div>
<div style="position:absolute;left:825.30px;top:292.20px;width:135.60px;height:17.60px;background:#fdfbb9;border:1px solid #c8c590;box-sizing:border-box;border-radius:1.5px"></div>
<div class="t" style="left:828.30px;top:297.00px;font-size:9.8px;color:#5b5a2a;font-weight:400;">60-180 минут</div>
<div class="t" style="left:657.90px;width:300px;text-align:right;top:297.04px;font-size:9.4px;color:#3d3d18;font-weight:700;">0</div>
<div style="position:absolute;left:825.30px;top:312.40px;width:135.60px;height:17.60px;background:#fdb9b9;border:1px solid #c99191;box-sizing:border-box;border-radius:1.5px"></div>
<div class="t" style="left:828.30px;top:317.20px;font-size:9.8px;color:#6b3636;font-weight:400;">&gt;180 мин</div>
<div class="t" style="left:657.90px;width:300px;text-align:right;top:317.24px;font-size:9.4px;color:#4a2626;font-weight:700;">0</div>
<div style="position:absolute;left:825.30px;top:346.60px;width:136.60px;height:32.00px;background:#fff;border:1px solid #b8b8b8;box-sizing:border-box;border-radius:2px"></div>
<div class="t" style="left:655.40px;width:300px;text-align:right;top:352.11px;font-size:9.2px;color:#222;font-weight:700;">0</div>
<svg style="position:absolute;left:947.10px;top:367.60px" width="12" height="7" viewBox="0 0 12 7"><rect x="0.3" y="0.3" width="11.4" height="6.4" rx="3.2" fill="#2a9d48"/><circle cx="8.5" cy="3.5" r="2.3" fill="#fff"/></svg>
<div style="position:absolute;left:827.80px;top:351.50px;width:63.00px;height:9.50px;background:#d0d1d2;filter:blur(2.6px);border-radius:4px"></div>
<div class="t" style="left:825.80px;top:385.48px;font-size:9.0px;color:#444;font-weight:400;">ЗАКРЫТИЕ</div>
<div class="t" style="left:660.40px;width:300px;text-align:right;top:385.14px;font-size:9.4px;color:#222;font-weight:700;">0</div>
<div style="position:absolute;left:825.30px;top:402.50px;width:136.60px;height:19.50px;background:#fff;border:1px solid #b8b8b8;box-sizing:border-box;border-radius:2px"></div>
<div class="t" style="left:828.70px;top:409.17px;font-size:9.6px;color:#444;font-weight:400;">Закрытие</div>
<div class="t" style="left:657.90px;width:300px;text-align:right;top:409.34px;font-size:9.4px;color:#222;font-weight:700;">0</div>
<div style="position:absolute;left:964.40px;top:55.50px;width:1.00px;height:690.50px;background:#f3f3f3"></div>
<div class="t" style="left:835.70px;width:400px;text-align:center;top:61.03px;font-size:11.3px;color:#4a4a4a;font-weight:400;">Интернет-магазин</div>
<div style="position:absolute;left:968.50px;top:74.10px;width:135.60px;height:0.80px;background:#f6f6f6"></div>
<div class="t" style="left:969.00px;top:78.12px;font-size:9.55px;color:#444;font-weight:400;">ОЖИДАНИЕ</div>
<div class="t" style="left:803.60px;width:300px;text-align:right;top:77.44px;font-size:9.4px;color:#222;font-weight:700;">1</div>
<div style="position:absolute;left:968.50px;top:88.60px;width:135.60px;height:0.80px;background:#f1f1f1"></div>
<div style="position:absolute;left:968.50px;top:95.20px;width:135.60px;height:17.60px;background:#bfe7c1;border:1px solid #8eb494;box-sizing:border-box;border-radius:1.5px"></div>
<div class="t" style="left:971.50px;top:100.00px;font-size:9.8px;color:#2f6b3b;font-weight:400;">&lt;5 минут</div>
<div class="t" style="left:801.10px;width:300px;text-align:right;top:100.04px;font-size:9.4px;color:#1d4a28;font-weight:700;">1</div>
<div style="position:absolute;left:968.50px;top:115.40px;width:135.60px;height:17.60px;background:#fdd5b7;border:1px solid #c8a68d;box-sizing:border-box;border-radius:1.5px"></div>
<div class="t" style="left:971.50px;top:120.20px;font-size:9.8px;color:#6b4632;font-weight:400;">5-30 минут</div>
<div class="t" style="left:801.10px;width:300px;text-align:right;top:120.24px;font-size:9.4px;color:#4a3020;font-weight:700;">0</div>
<div style="position:absolute;left:968.50px;top:135.60px;width:135.60px;height:17.60px;background:#fddc97;border:1px solid #c7ab77;box-sizing:border-box;border-radius:1.5px"></div>
<div class="t" style="left:971.50px;top:140.40px;font-size:9.8px;color:#6b5022;font-weight:400;">30-60 минут</div>
<div class="t" style="left:801.10px;width:300px;text-align:right;top:140.44px;font-size:9.4px;color:#4a3a12;font-weight:700;">0</div>
<div style="position:absolute;left:968.50px;top:155.80px;width:135.60px;height:17.60px;background:#fdfbb9;border:1px solid #c8c590;box-sizing:border-box;border-radius:1.5px"></div>
<div class="t" style="left:971.50px;top:160.60px;font-size:9.8px;color:#5b5a2a;font-weight:400;">60-180 минут</div>
<div class="t" style="left:801.10px;width:300px;text-align:right;top:160.64px;font-size:9.4px;color:#3d3d18;font-weight:700;">0</div>
<div style="position:absolute;left:968.50px;top:176.00px;width:135.60px;height:17.60px;background:#fdb9b9;border:1px solid #c99191;box-sizing:border-box;border-radius:1.5px"></div>
<div class="t" style="left:971.50px;top:180.80px;font-size:9.8px;color:#6b3636;font-weight:400;">&gt;180 мин</div>
<div class="t" style="left:801.10px;width:300px;text-align:right;top:180.84px;font-size:9.4px;color:#4a2626;font-weight:700;">0</div>
<div class="t" style="left:969.00px;top:215.22px;font-size:8.95px;color:#444;font-weight:400;">В ОБРАБОТКЕ</div>
<div class="t" style="left:803.60px;width:300px;text-align:right;top:214.14px;font-size:9.4px;color:#222;font-weight:700;">2</div>
<div style="position:absolute;left:968.50px;top:231.60px;width:135.60px;height:17.60px;background:#bfe7c1;border:1px solid #8eb494;box-sizing:border-box;border-radius:1.5px"></div>
<div class="t" style="left:971.50px;top:236.40px;font-size:9.8px;color:#2f6b3b;font-weight:400;">&lt;5 минут</div>
<div class="t" style="left:801.10px;width:300px;text-align:right;top:236.44px;font-size:9.4px;color:#1d4a28;font-weight:700;">0</div>
<div style="position:absolute;left:968.50px;top:251.80px;width:135.60px;height:17.60px;background:#fdd5b7;border:1px solid #c8a68d;box-sizing:border-box;border-radius:1.5px"></div>
<div class="t" style="left:971.50px;top:256.60px;font-size:9.8px;color:#6b4632;font-weight:400;">5-30 минут</div>
<div class="t" style="left:801.10px;width:300px;text-align:right;top:256.64px;font-size:9.4px;color:#4a3020;font-weight:700;">0</div>
<div style="position:absolute;left:968.50px;top:272.00px;width:135.60px;height:17.60px;background:#fddc97;border:1px solid #c7ab77;box-sizing:border-box;border-radius:1.5px"></div>
<div class="t" style="left:971.50px;top:276.80px;font-size:9.8px;color:#6b5022;font-weight:400;">30-60 минут</div>
<div class="t" style="left:801.10px;width:300px;text-align:right;top:276.84px;font-size:9.4px;color:#4a3a12;font-weight:700;">0</div>
<div style="position:absolute;left:968.50px;top:292.20px;width:135.60px;height:17.60px;background:#fdfbb9;border:1px solid #c8c590;box-sizing:border-box;border-radius:1.5px"></div>
<div class="t" style="left:971.50px;top:297.00px;font-size:9.8px;color:#5b5a2a;font-weight:400;">60-180 минут</div>
<div class="t" style="left:801.10px;width:300px;text-align:right;top:297.04px;font-size:9.4px;color:#3d3d18;font-weight:700;">1</div>
<div style="position:absolute;left:968.50px;top:312.40px;width:135.60px;height:17.60px;background:#fdb9b9;border:1px solid #c99191;box-sizing:border-box;border-radius:1.5px"></div>
<div class="t" style="left:971.50px;top:317.20px;font-size:9.8px;color:#6b3636;font-weight:400;">&gt;180 мин</div>
<div class="t" style="left:801.10px;width:300px;text-align:right;top:317.24px;font-size:9.4px;color:#4a2626;font-weight:700;">1</div>
<div style="position:absolute;left:968.50px;top:346.60px;width:136.60px;height:32.00px;background:#fff;border:1px solid #b8b8b8;box-sizing:border-box;border-radius:2px"></div>
<div class="t" style="left:798.60px;width:300px;text-align:right;top:352.11px;font-size:9.2px;color:#222;font-weight:700;">0</div>
<svg style="position:absolute;left:1090.30px;top:367.60px" width="12" height="7" viewBox="0 0 12 7"><rect x="0.5" y="0.5" width="11" height="6" rx="3" fill="#fff" stroke="#9a9a9a" stroke-width="0.9"/><circle cx="3.6" cy="3.5" r="2.3" fill="none" stroke="#9a9a9a" stroke-width="0.9"/></svg>
<div style="position:absolute;left:968.50px;top:381.80px;width:136.60px;height:32.00px;background:#fff;border:1px solid #b8b8b8;box-sizing:border-box;border-radius:2px"></div>
<div class="t" style="left:798.60px;width:300px;text-align:right;top:387.31px;font-size:9.2px;color:#222;font-weight:700;">0</div>
<svg style="position:absolute;left:1090.30px;top:402.80px" width="12" height="7" viewBox="0 0 12 7"><rect x="0.5" y="0.5" width="11" height="6" rx="3" fill="#fff" stroke="#9a9a9a" stroke-width="0.9"/><circle cx="3.6" cy="3.5" r="2.3" fill="none" stroke="#9a9a9a" stroke-width="0.9"/></svg>
<div style="position:absolute;left:968.50px;top:417.00px;width:136.60px;height:32.00px;background:#fff;border:1px solid #b8b8b8;box-sizing:border-box;border-radius:2px"></div>
<div class="t" style="left:798.60px;width:300px;text-align:right;top:422.51px;font-size:9.2px;color:#222;font-weight:700;">1</div>
<svg style="position:absolute;left:1090.30px;top:438.00px" width="12" height="7" viewBox="0 0 12 7"><rect x="0.5" y="0.5" width="11" height="6" rx="3" fill="#fff" stroke="#9a9a9a" stroke-width="0.9"/><circle cx="3.6" cy="3.5" r="2.3" fill="none" stroke="#9a9a9a" stroke-width="0.9"/></svg>
<div style="position:absolute;left:968.50px;top:452.20px;width:136.60px;height:32.00px;background:#fff;border:1px solid #b8b8b8;box-sizing:border-box;border-radius:2px"></div>
<div class="t" style="left:798.60px;width:300px;text-align:right;top:457.71px;font-size:9.2px;color:#222;font-weight:700;">0</div>
<svg style="position:absolute;left:1090.30px;top:473.20px" width="12" height="7" viewBox="0 0 12 7"><rect x="0.5" y="0.5" width="11" height="6" rx="3" fill="#fff" stroke="#9a9a9a" stroke-width="0.9"/><circle cx="3.6" cy="3.5" r="2.3" fill="none" stroke="#9a9a9a" stroke-width="0.9"/></svg>
<div style="position:absolute;left:968.50px;top:487.40px;width:136.60px;height:32.00px;background:#fff;border:1px solid #b8b8b8;box-sizing:border-box;border-radius:2px"></div>
<div class="t" style="left:798.60px;width:300px;text-align:right;top:492.91px;font-size:9.2px;color:#222;font-weight:700;">0</div>
<svg style="position:absolute;left:1090.30px;top:508.40px" width="12" height="7" viewBox="0 0 12 7"><rect x="0.5" y="0.5" width="11" height="6" rx="3" fill="#fff" stroke="#9a9a9a" stroke-width="0.9"/><circle cx="3.6" cy="3.5" r="2.3" fill="none" stroke="#9a9a9a" stroke-width="0.9"/></svg>
<div style="position:absolute;left:968.50px;top:522.60px;width:136.60px;height:32.00px;background:#fff;border:1px solid #b8b8b8;box-sizing:border-box;border-radius:2px"></div>
<div class="t" style="left:798.60px;width:300px;text-align:right;top:528.11px;font-size:9.2px;color:#222;font-weight:700;">0</div>
<svg style="position:absolute;left:1090.30px;top:543.60px" width="12" height="7" viewBox="0 0 12 7"><rect x="0.5" y="0.5" width="11" height="6" rx="3" fill="#fff" stroke="#9a9a9a" stroke-width="0.9"/><circle cx="3.6" cy="3.5" r="2.3" fill="none" stroke="#9a9a9a" stroke-width="0.9"/></svg>
<div style="position:absolute;left:968.50px;top:557.80px;width:136.60px;height:32.00px;background:#fff;border:1px solid #b8b8b8;box-sizing:border-box;border-radius:2px"></div>
<div class="t" style="left:798.60px;width:300px;text-align:right;top:563.31px;font-size:9.2px;color:#222;font-weight:700;">0</div>
<svg style="position:absolute;left:1090.30px;top:578.80px" width="12" height="7" viewBox="0 0 12 7"><rect x="0.5" y="0.5" width="11" height="6" rx="3" fill="#fff" stroke="#9a9a9a" stroke-width="0.9"/><circle cx="3.6" cy="3.5" r="2.3" fill="none" stroke="#9a9a9a" stroke-width="0.9"/></svg>
<div style="position:absolute;left:966.50px;top:341.40px;width:95.00px;height:250.40px;background:#fafafa;filter:blur(1.5px)"></div>
<div style="position:absolute;left:969.50px;top:350.60px;width:39.00px;height:10.00px;background:#cbcccd;filter:blur(3px);border-radius:4px"></div>
<div style="position:absolute;left:1011.62px;top:350.60px;width:35.88px;height:10.00px;background:#cdcecf;filter:blur(3px);border-radius:4px"></div>
<div style="position:absolute;left:969.50px;top:385.80px;width:42.50px;height:10.00px;background:#cbcccd;filter:blur(3px);border-radius:4px"></div>
<div style="position:absolute;left:1015.40px;top:385.80px;width:39.10px;height:10.00px;background:#cdcecf;filter:blur(3px);border-radius:4px"></div>
<div style="position:absolute;left:969.50px;top:421.00px;width:35.00px;height:10.00px;background:#cbcccd;filter:blur(3px);border-radius:4px"></div>
<div style="position:absolute;left:1007.30px;top:421.00px;width:32.20px;height:10.00px;background:#cdcecf;filter:blur(3px);border-radius:4px"></div>
<div style="position:absolute;left:969.50px;top:456.20px;width:38.00px;height:10.00px;background:#cbcccd;filter:blur(3px);border-radius:4px"></div>
<div style="position:absolute;left:1010.54px;top:456.20px;width:34.96px;height:10.00px;background:#cdcecf;filter:blur(3px);border-radius:4px"></div>
<div style="position:absolute;left:969.50px;top:491.40px;width:37.00px;height:10.00px;background:#cbcccd;filter:blur(3px);border-radius:4px"></div>
<div style="position:absolute;left:1009.46px;top:491.40px;width:34.04px;height:10.00px;background:#cdcecf;filter:blur(3px);border-radius:4px"></div>
<div style="position:absolute;left:969.50px;top:526.60px;width:32.00px;height:10.00px;background:#cbcccd;filter:blur(3px);border-radius:4px"></div>
<div style="position:absolute;left:1004.06px;top:526.60px;width:29.44px;height:10.00px;background:#cdcecf;filter:blur(3px);border-radius:4px"></div>
<div style="position:absolute;left:969.50px;top:561.80px;width:38.00px;height:10.00px;background:#cbcccd;filter:blur(3px);border-radius:4px"></div>
<div style="position:absolute;left:1010.54px;top:561.80px;width:34.96px;height:10.00px;background:#cdcecf;filter:blur(3px);border-radius:4px"></div>
<div class="t" style="left:969.00px;top:596.68px;font-size:9.0px;color:#444;font-weight:400;">ЗАКРЫТИЕ</div>
<div class="t" style="left:803.60px;width:300px;text-align:right;top:596.34px;font-size:9.4px;color:#222;font-weight:700;">6</div>
<div style="position:absolute;left:968.50px;top:613.70px;width:136.60px;height:19.50px;background:#fff;border:1px solid #b8b8b8;box-sizing:border-box;border-radius:2px"></div>
<div class="t" style="left:971.90px;top:620.37px;font-size:9.6px;color:#444;font-weight:400;">Закрытие</div>
<div class="t" style="left:801.10px;width:300px;text-align:right;top:620.54px;font-size:9.4px;color:#222;font-weight:700;">6</div>
<div style="position:absolute;left:1107.60px;top:55.50px;width:1.00px;height:690.50px;background:#f3f3f3"></div>
<div class="t" style="left:1117.70px;top:77.73px;font-size:11.3px;color:#4a4a4a;font-weight:400;">претензии</div>
<div style="position:absolute;left:1151.80px;top:61.50px;width:1.10px;height:8.50px;background:#555"></div>
<div style="position:absolute;left:1111.70px;top:91.10px;width:135.60px;height:0.80px;background:#f6f6f6"></div>
<div class="t" style="left:1112.20px;top:95.12px;font-size:9.55px;color:#444;font-weight:400;">ОЖИДАНИЕ</div>
<div class="t" style="left:946.80px;width:300px;text-align:right;top:94.44px;font-size:9.4px;color:#222;font-weight:700;">0</div>
<div style="position:absolute;left:1111.70px;top:105.60px;width:135.60px;height:0.80px;background:#f1f1f1"></div>
<div style="position:absolute;left:1111.70px;top:112.20px;width:135.60px;height:17.60px;background:#bfe7c1;border:1px solid #8eb494;box-sizing:border-box;border-radius:1.5px"></div>
<div class="t" style="left:1114.70px;top:117.00px;font-size:9.8px;color:#2f6b3b;font-weight:400;">&lt;5 минут</div>
<div class="t" style="left:944.30px;width:300px;text-align:right;top:117.04px;font-size:9.4px;color:#1d4a28;font-weight:700;">0</div>
<div style="position:absolute;left:1111.70px;top:132.40px;width:135.60px;height:17.60px;background:#fdd5b7;border:1px solid #c8a68d;box-sizing:border-box;border-radius:1.5px"></div>
<div class="t" style="left:1114.70px;top:137.20px;font-size:9.8px;color:#6b4632;font-weight:400;">5-30 минут</div>
<div class="t" style="left:944.30px;width:300px;text-align:right;top:137.24px;font-size:9.4px;color:#4a3020;font-weight:700;">0</div>
<div style="position:absolute;left:1111.70px;top:152.60px;width:135.60px;height:17.60px;background:#fddc97;border:1px solid #c7ab77;box-sizing:border-box;border-radius:1.5px"></div>
<div class="t" style="left:1114.70px;top:157.40px;font-size:9.8px;color:#6b5022;font-weight:400;">30-60 минут</div>
<div class="t" style="left:944.30px;width:300px;text-align:right;top:157.44px;font-size:9.4px;color:#4a3a12;font-weight:700;">0</div>
<div style="position:absolute;left:1111.70px;top:172.80px;width:135.60px;height:17.60px;background:#fdfbb9;border:1px solid #c8c590;box-sizing:border-box;border-radius:1.5px"></div>
<div class="t" style="left:1114.70px;top:177.60px;font-size:9.8px;color:#5b5a2a;font-weight:400;">60-180 минут</div>
<div class="t" style="left:944.30px;width:300px;text-align:right;top:177.64px;font-size:9.4px;color:#3d3d18;font-weight:700;">0</div>
<div style="position:absolute;left:1111.70px;top:193.00px;width:135.60px;height:17.60px;background:#fdb9b9;border:1px solid #c99191;box-sizing:border-box;border-radius:1.5px"></div>
<div class="t" style="left:1114.70px;top:197.80px;font-size:9.8px;color:#6b3636;font-weight:400;">&gt;180 мин</div>
<div class="t" style="left:944.30px;width:300px;text-align:right;top:197.84px;font-size:9.4px;color:#4a2626;font-weight:700;">0</div>
<div class="t" style="left:1112.20px;top:232.22px;font-size:8.95px;color:#444;font-weight:400;">В ОБРАБОТКЕ</div>
<div class="t" style="left:946.80px;width:300px;text-align:right;top:231.14px;font-size:9.4px;color:#222;font-weight:700;">0</div>
<div style="position:absolute;left:1111.70px;top:248.60px;width:135.60px;height:17.60px;background:#bfe7c1;border:1px solid #8eb494;box-sizing:border-box;border-radius:1.5px"></div>
<div class="t" style="left:1114.70px;top:253.40px;font-size:9.8px;color:#2f6b3b;font-weight:400;">&lt;5 минут</div>
<div class="t" style="left:944.30px;width:300px;text-align:right;top:253.44px;font-size:9.4px;color:#1d4a28;font-weight:700;">0</div>
<div style="position:absolute;left:1111.70px;top:268.80px;width:135.60px;height:17.60px;background:#fdd5b7;border:1px solid #c8a68d;box-sizing:border-box;border-radius:1.5px"></div>
<div class="t" style="left:1114.70px;top:273.60px;font-size:9.8px;color:#6b4632;font-weight:400;">5-30 минут</div>
<div class="t" style="left:944.30px;width:300px;text-align:right;top:273.64px;font-size:9.4px;color:#4a3020;font-weight:700;">0</div>
<div style="position:absolute;left:1111.70px;top:289.00px;width:135.60px;height:17.60px;background:#fddc97;border:1px solid #c7ab77;box-sizing:border-box;border-radius:1.5px"></div>
<div class="t" style="left:1114.70px;top:293.80px;font-size:9.8px;color:#6b5022;font-weight:400;">30-60 минут</div>
<div class="t" style="left:944.30px;width:300px;text-align:right;top:293.84px;font-size:9.4px;color:#4a3a12;font-weight:700;">0</div>
<div style="position:absolute;left:1111.70px;top:309.20px;width:135.60px;height:17.60px;background:#fdfbb9;border:1px solid #c8c590;box-sizing:border-box;border-radius:1.5px"></div>
<div class="t" style="left:1114.70px;top:314.00px;font-size:9.8px;color:#5b5a2a;font-weight:400;">60-180 минут</div>
<div class="t" style="left:944.30px;width:300px;text-align:right;top:314.04px;font-size:9.4px;color:#3d3d18;font-weight:700;">0</div>
<div style="position:absolute;left:1111.70px;top:329.40px;width:135.60px;height:17.60px;background:#fdb9b9;border:1px solid #c99191;box-sizing:border-box;border-radius:1.5px"></div>
<div class="t" style="left:1114.70px;top:334.20px;font-size:9.8px;color:#6b3636;font-weight:400;">&gt;180 мин</div>
<div class="t" style="left:944.30px;width:300px;text-align:right;top:334.24px;font-size:9.4px;color:#4a2626;font-weight:700;">0</div>
<div style="position:absolute;left:1111.70px;top:363.60px;width:136.60px;height:32.00px;background:#fff;border:1px solid #b8b8b8;box-sizing:border-box;border-radius:2px"></div>
<div class="t" style="left:941.80px;width:300px;text-align:right;top:369.11px;font-size:9.2px;color:#222;font-weight:700;">0</div>
<svg style="position:absolute;left:1233.50px;top:384.60px" width="12" height="7" viewBox="0 0 12 7"><rect x="0.5" y="0.5" width="11" height="6" rx="3" fill="#fff" stroke="#9a9a9a" stroke-width="0.9"/><circle cx="3.6" cy="3.5" r="2.3" fill="none" stroke="#9a9a9a" stroke-width="0.9"/></svg>
<div style="position:absolute;left:1111.70px;top:398.80px;width:136.60px;height:32.00px;background:#fff;border:1px solid #b8b8b8;box-sizing:border-box;border-radius:2px"></div>
<div class="t" style="left:941.80px;width:300px;text-align:right;top:404.31px;font-size:9.2px;color:#222;font-weight:700;">0</div>
<svg style="position:absolute;left:1233.50px;top:419.80px" width="12" height="7" viewBox="0 0 12 7"><rect x="0.5" y="0.5" width="11" height="6" rx="3" fill="#fff" stroke="#9a9a9a" stroke-width="0.9"/><circle cx="3.6" cy="3.5" r="2.3" fill="none" stroke="#9a9a9a" stroke-width="0.9"/></svg>
<div style="position:absolute;left:1111.70px;top:434.00px;width:136.60px;height:32.00px;background:#fff;border:1px solid #b8b8b8;box-sizing:border-box;border-radius:2px"></div>
<div class="t" style="left:941.80px;width:300px;text-align:right;top:439.51px;font-size:9.2px;color:#222;font-weight:700;">0</div>
<svg style="position:absolute;left:1233.50px;top:455.00px" width="12" height="7" viewBox="0 0 12 7"><rect x="0.5" y="0.5" width="11" height="6" rx="3" fill="#fff" stroke="#9a9a9a" stroke-width="0.9"/><circle cx="3.6" cy="3.5" r="2.3" fill="none" stroke="#9a9a9a" stroke-width="0.9"/></svg>
<div style="position:absolute;left:1109.70px;top:358.40px;width:95.00px;height:109.60px;background:#fafafa;filter:blur(1.5px)"></div>
<div style="position:absolute;left:1112.70px;top:367.60px;width:45.00px;height:10.00px;background:#cbcccd;filter:blur(3px);border-radius:4px"></div>
<div style="position:absolute;left:1161.30px;top:367.60px;width:41.40px;height:10.00px;background:#cdcecf;filter:blur(3px);border-radius:4px"></div>
<div style="position:absolute;left:1112.70px;top:402.80px;width:45.00px;height:10.00px;background:#cbcccd;filter:blur(3px);border-radius:4px"></div>
<div style="position:absolute;left:1161.30px;top:402.80px;width:41.40px;height:10.00px;background:#cdcecf;filter:blur(3px);border-radius:4px"></div>
<div style="position:absolute;left:1112.70px;top:438.00px;width:45.00px;height:10.00px;background:#cbcccd;filter:blur(3px);border-radius:4px"></div>
<div style="position:absolute;left:1161.30px;top:438.00px;width:41.40px;height:10.00px;background:#cdcecf;filter:blur(3px);border-radius:4px"></div>
<div class="t" style="left:1112.20px;top:472.88px;font-size:9.0px;color:#444;font-weight:400;">ЗАКРЫТИЕ</div>
<div class="t" style="left:946.80px;width:300px;text-align:right;top:472.54px;font-size:9.4px;color:#222;font-weight:700;">0</div>
<div style="position:absolute;left:1111.70px;top:489.90px;width:136.60px;height:19.50px;background:#fff;border:1px solid #b8b8b8;box-sizing:border-box;border-radius:2px"></div>
<div class="t" style="left:1115.10px;top:496.57px;font-size:9.6px;color:#444;font-weight:400;">Закрытие</div>
<div class="t" style="left:944.30px;width:300px;text-align:right;top:496.74px;font-size:9.4px;color:#222;font-weight:700;">0</div>
<div style="position:absolute;left:1153.50px;top:55.50px;width:302.00px;height:690.50px;background:#fff"></div>
<div style="position:absolute;left:1153.30px;top:55.50px;width:0.90px;height:690.50px;background:#e6e6e6"></div>
<div class="t" style="left:1153.80px;top:38.62px;font-size:11.2px;color:#363636;font-weight:400;-webkit-text-stroke:0.3px currentColor;">Статистика</div>
<div style="position:absolute;left:1157.80px;top:62.70px;width:300.00px;height:21.60px;background:#e8ebee"></div>
<div class="t" style="left:1160.70px;top:69.59px;font-size:11.35px;color:#3d3d3d;font-weight:400;-webkit-text-stroke:0.3px currentColor;">Всего диалогов</div>
<div class="t" style="left:1158.20px;top:94.68px;font-size:11.13px;color:#3a3a3a;font-weight:400;">Поступило</div>
<div class="t" style="left:1158.20px;top:111.78px;font-size:11.13px;color:#3a3a3a;font-weight:400;">В работе</div>
<div class="t" style="left:1158.20px;top:128.88px;font-size:11.13px;color:#3a3a3a;font-weight:400;">Обработано</div>
<div class="t" style="left:1158.20px;top:145.98px;font-size:11.13px;color:#3a3a3a;font-weight:400;">Пропущено</div>
<div class="t" style="left:1158.20px;top:169.32px;font-size:11.2px;color:#3a3a3a;font-weight:400;">Положительных</div>
<div class="t" style="left:1000.60px;width:400px;text-align:center;top:186.49px;font-size:11.0px;color:#5cb85c;font-weight:400;">0</div>
<div style="position:absolute;left:1157.70px;top:205.60px;width:300.00px;height:21.10px;background:#e8ebee"></div>
<div class="t" style="left:1160.40px;top:211.85px;font-size:11.75px;color:#3d3d3d;font-weight:400;-webkit-text-stroke:0.3px currentColor;">Оценки по операторам</div>
<div style="position:absolute;left:1157.70px;top:232.20px;width:300.00px;height:0.80px;background:#eeeeee"></div>
<div style="position:absolute;left:1157.50px;top:257.25px;width:300.00px;height:0.80px;background:#ececec"></div>
<div style="position:absolute;left:1157.50px;top:281.70px;width:300.00px;height:0.80px;background:#ececec"></div>
<div style="position:absolute;left:1157.50px;top:306.15px;width:300.00px;height:0.80px;background:#ececec"></div>
<div style="position:absolute;left:1157.50px;top:330.60px;width:300.00px;height:0.80px;background:#ececec"></div>
<div style="position:absolute;left:1157.50px;top:355.05px;width:300.00px;height:0.80px;background:#ececec"></div>
<div style="position:absolute;left:1157.50px;top:379.50px;width:300.00px;height:0.80px;background:#ececec"></div>
<div style="position:absolute;left:1157.50px;top:403.95px;width:300.00px;height:0.80px;background:#ececec"></div>
<div style="position:absolute;left:1157.50px;top:428.40px;width:300.00px;height:0.80px;background:#ececec"></div>
<div style="position:absolute;left:1157.50px;top:452.85px;width:300.00px;height:0.80px;background:#ececec"></div>
<div style="position:absolute;left:1157.50px;top:233.80px;width:146.00px;height:243.00px;background:#fcfcfc;filter:blur(1px)"></div>
<div style="position:absolute;left:1162.00px;top:240.30px;width:51.00px;height:10.00px;background:#d0d1d2;filter:blur(3px);border-radius:4px"></div>
<div style="position:absolute;left:1217.08px;top:240.30px;width:46.92px;height:10.00px;background:#d2d3d4;filter:blur(3px);border-radius:4px"></div>
<div style="position:absolute;left:1162.00px;top:264.75px;width:46.25px;height:10.00px;background:#d0d1d2;filter:blur(3px);border-radius:4px"></div>
<div style="position:absolute;left:1211.95px;top:264.75px;width:42.55px;height:10.00px;background:#d2d3d4;filter:blur(3px);border-radius:4px"></div>
<div style="position:absolute;left:1162.00px;top:289.20px;width:35.00px;height:10.00px;background:#d0d1d2;filter:blur(3px);border-radius:4px"></div>
<div style="position:absolute;left:1199.80px;top:289.20px;width:32.20px;height:10.00px;background:#d2d3d4;filter:blur(3px);border-radius:4px"></div>
<div style="position:absolute;left:1162.00px;top:313.65px;width:50.65px;height:10.00px;background:#d0d1d2;filter:blur(3px);border-radius:4px"></div>
<div style="position:absolute;left:1216.70px;top:313.65px;width:46.60px;height:10.00px;background:#d2d3d4;filter:blur(3px);border-radius:4px"></div>
<div style="position:absolute;left:1162.00px;top:338.10px;width:65.50px;height:10.00px;background:#d0d1d2;filter:blur(3px);border-radius:4px"></div>
<div style="position:absolute;left:1232.74px;top:338.10px;width:60.26px;height:10.00px;background:#d2d3d4;filter:blur(3px);border-radius:4px"></div>
<div style="position:absolute;left:1162.00px;top:362.55px;width:46.35px;height:10.00px;background:#d0d1d2;filter:blur(3px);border-radius:4px"></div>
<div style="position:absolute;left:1212.06px;top:362.55px;width:42.64px;height:10.00px;background:#d2d3d4;filter:blur(3px);border-radius:4px"></div>
<div style="position:absolute;left:1162.00px;top:387.00px;width:47.25px;height:10.00px;background:#d0d1d2;filter:blur(3px);border-radius:4px"></div>
<div style="position:absolute;left:1213.03px;top:387.00px;width:43.47px;height:10.00px;background:#d2d3d4;filter:blur(3px);border-radius:4px"></div>
<div style="position:absolute;left:1162.00px;top:411.45px;width:50.00px;height:10.00px;background:#d0d1d2;filter:blur(3px);border-radius:4px"></div>
<div style="position:absolute;left:1216.00px;top:411.45px;width:46.00px;height:10.00px;background:#d2d3d4;filter:blur(3px);border-radius:4px"></div>
<div style="position:absolute;left:1162.00px;top:435.90px;width:45.40px;height:10.00px;background:#d0d1d2;filter:blur(3px);border-radius:4px"></div>
<div style="position:absolute;left:1211.03px;top:435.90px;width:41.77px;height:10.00px;background:#d2d3d4;filter:blur(3px);border-radius:4px"></div>
<div style="position:absolute;left:1162.00px;top:460.35px;width:45.40px;height:10.00px;background:#d0d1d2;filter:blur(3px);border-radius:4px"></div>
<div style="position:absolute;left:1211.03px;top:460.35px;width:41.77px;height:10.00px;background:#d2d3d4;filter:blur(3px);border-radius:4px"></div>
<div style="position:absolute;left:1157.70px;top:477.00px;width:300.00px;height:0.80px;background:#eeeeee"></div>
<div style="position:absolute;left:1158.00px;top:492.70px;width:300.00px;height:22.10px;background:#e8ebee"></div>
<div class="t" style="left:1160.50px;top:499.57px;font-size:11.85px;color:#3d3d3d;font-weight:400;-webkit-text-stroke:0.3px currentColor;">Причины обращения</div>
<div class="t" style="left:1158.00px;top:524.61px;font-size:11.45px;color:#3a3a3a;font-weight:400;">Акции/Клиентские дни</div>
<div class="t" style="left:1158.00px;top:541.81px;font-size:11.45px;color:#3a3a3a;font-weight:400;">Баланс</div>
<div class="t" style="left:1158.00px;top:559.01px;font-size:11.45px;color:#3a3a3a;font-weight:400;">Без темы</div>
<div class="t" style="left:1158.00px;top:576.21px;font-size:11.45px;color:#3a3a3a;font-weight:400;">Благодарность</div>
<div class="t" style="left:1158.00px;top:593.41px;font-size:11.45px;color:#3a3a3a;font-weight:400;">Возврат ДС</div>
<div class="t" style="left:1158.00px;top:610.61px;font-size:11.45px;color:#3a3a3a;font-weight:400;">Вопрос про промокод</div>
<div class="t" style="left:1158.00px;top:627.81px;font-size:11.45px;color:#3a3a3a;font-weight:400;">Вопросы по начислению и списанию бонусов</div>
<div class="t" style="left:1158.00px;top:645.01px;font-size:11.45px;color:#3a3a3a;font-weight:400;">График работы и адрес магазина</div>
<div class="t" style="left:1158.00px;top:662.21px;font-size:11.45px;color:#3a3a3a;font-weight:400;">Долями (офлайн)</div>
<div class="t" style="left:1158.00px;top:679.41px;font-size:11.45px;color:#3a3a3a;font-weight:400;">Другое</div>
<div class="t" style="left:1158.00px;top:696.61px;font-size:11.45px;color:#3a3a3a;font-weight:400;">Жалоба на доставку/самовывоз</div>
<div class="t" style="left:1158.00px;top:713.81px;font-size:11.45px;color:#3a3a3a;font-weight:400;">Жалоба на мобильное приложение</div>
<div class="t" style="left:1158.00px;top:731.01px;font-size:11.45px;color:#3a3a3a;font-weight:400;">Жалоба на процесс отмены/возвратов</div>
</body></html>
